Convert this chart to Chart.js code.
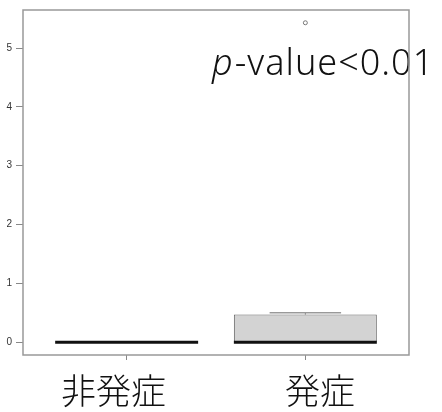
<!DOCTYPE html>
<html>
<head>
<meta charset="utf-8">
<script src="https://cdn.jsdelivr.net/npm/chart.js@4"></script>
<style>
  html, body { margin: 0; padding: 0; background: #fff; }
  canvas { display: block; }
</style>
</head>
<body>
<canvas id="boxChart" width="442" height="412"></canvas>
<script>
// box plot summary per group
const groups = ['非発症', '発症'];
const q1 = [0, 0];
const medians = [0, 0];
const q3 = [0, 0.47];
const whiskerLo = [0, 0];
const whiskerHi = [0, 0.5];
const outliers = [[], [5.43]];
const yTicks = [0, 1, 2, 3, 4, 5];
const pLabel = '-value<0.01';

// group names sit a little off their tick marks
const groupLabelX = [0.926, 2.082];

// median line, whiskers, staples, group names, p-value note and the plot frame
const boxExtras = {
  id: 'boxExtras',
  afterDatasetsDraw(chart) {
    const { ctx, scales: { x, y } } = chart;
    ctx.save();
    groups.forEach((g, i) => {
      const c = i + 1;
      // whiskers (dashed)
      ctx.strokeStyle = '#777';
      ctx.lineWidth = 1;
      ctx.setLineDash([3, 3]);
      ctx.beginPath();
      ctx.moveTo(x.getPixelForValue(c), y.getPixelForValue(q3[i]));
      ctx.lineTo(x.getPixelForValue(c), y.getPixelForValue(whiskerHi[i]));
      ctx.moveTo(x.getPixelForValue(c), y.getPixelForValue(q1[i]));
      ctx.lineTo(x.getPixelForValue(c), y.getPixelForValue(whiskerLo[i]));
      ctx.stroke();
      ctx.setLineDash([]);
      // staples
      ctx.strokeStyle = '#999';
      ctx.lineWidth = 1.5;
      ctx.beginPath();
      [whiskerHi[i], whiskerLo[i]].forEach(v => {
        if (v === q3[i] || v === q1[i]) return;
        ctx.moveTo(x.getPixelForValue(c - 0.2), y.getPixelForValue(v));
        ctx.lineTo(x.getPixelForValue(c + 0.2), y.getPixelForValue(v));
      });
      ctx.stroke();
      // median
      ctx.strokeStyle = '#111';
      ctx.lineWidth = 3;
      ctx.beginPath();
      ctx.moveTo(x.getPixelForValue(c - 0.4), y.getPixelForValue(medians[i]));
      ctx.lineTo(x.getPixelForValue(c + 0.4), y.getPixelForValue(medians[i]));
      ctx.stroke();
    });
    ctx.restore();
  },
  afterDraw(chart) {
    const { ctx, chartArea: a, scales: { x, y } } = chart;
    ctx.save();
    // group names under the axis
    ctx.fillStyle = '#111';
    ctx.font = '300 35px "Noto Sans CJK JP"';
    ctx.textAlign = 'center';
    ctx.textBaseline = 'middle';
    groups.forEach((g, i) => {
      ctx.fillText(g, x.getPixelForValue(groupLabelX[i]), a.bottom + 36);
    });
    // p-value note
    const tx = x.getPixelForValue(1.478);
    const ty = y.getPixelForValue(4.54);
    ctx.textAlign = 'left';
    ctx.textBaseline = 'alphabetic';
    ctx.font = 'italic 300 36px "Noto Sans"';
    ctx.fillText('p', tx, ty);
    const pw = ctx.measureText('p').width;
    ctx.font = '300 36px "Noto Sans"';
    ctx.letterSpacing = '1px';
    ctx.fillText(pLabel, tx + pw + 2, ty);
    ctx.letterSpacing = '0px';
    // frame
    ctx.strokeStyle = '#999';
    ctx.lineWidth = 1.5;
    ctx.strokeRect(a.left, a.top, a.right - a.left, a.bottom - a.top);
    ctx.restore();
  }
};

new Chart(document.getElementById('boxChart'), {
  type: 'bar',
  data: {
    datasets: [
      {
        type: 'bar',
        data: groups.map((g, i) => ({ x: i + 1, y: [q1[i], q3[i]] })),
        backgroundColor: '#d3d3d3',
        borderColor: '#666',
        borderWidth: 1,
        borderSkipped: false,
        categoryPercentage: 1,
        barPercentage: 0.8
      },
      {
        type: 'scatter',
        data: outliers.flatMap((vals, i) => vals.map(v => ({ x: i + 1, y: v }))),
        pointStyle: 'circle',
        pointRadius: 2,
        borderColor: '#777',
        borderWidth: 1,
        backgroundColor: 'rgba(0,0,0,0)'
      }
    ]
  },
  options: {
    responsive: false,
    animation: false,
    layout: { padding: { top: 10, right: 33, left: 0, bottom: 0 } },
    plugins: { legend: { display: false }, tooltip: { enabled: false } },
    scales: {
      x: {
        type: 'linear',
        offset: false,
        min: 0.42,
        max: 2.58,
        afterBuildTicks: axis => { axis.ticks = groups.map((g, i) => ({ value: i + 1 })); },
        afterFit: axis => { axis.height = 57; },
        ticks: {
          callback: () => '',
          maxRotation: 0,
          autoSkip: false
        },
        grid: { drawOnChartArea: false, offset: false, tickLength: 5, color: '#888' },
        border: { display: false }
      },
      y: {
        min: -0.217,
        max: 5.647,
        afterBuildTicks: axis => { axis.ticks = yTicks.map(v => ({ value: v })); },
        afterFit: axis => { axis.width = 23; },
        ticks: {
          font: { family: '"Liberation Sans"', size: 10 },
          color: '#333',
          padding: 4
        },
        grid: { drawOnChartArea: false, tickLength: 7, color: '#888' },
        border: { display: false }
      }
    }
  },
  plugins: [boxExtras]
});
</script>
</body>
</html>
